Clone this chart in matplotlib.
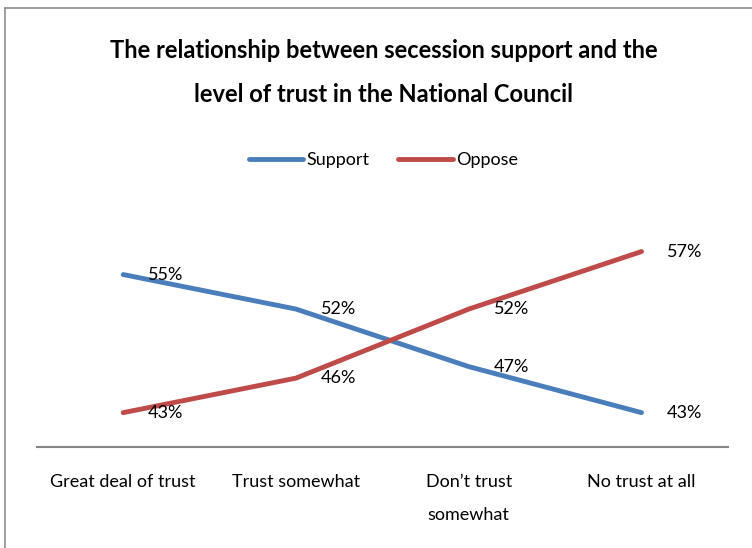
import matplotlib.pyplot as plt
from matplotlib.lines import Line2D

categories = ["Great deal of trust", "Trust somewhat", "Don\u2019t trust\nsomewhat", "No trust at all"]
support = [55, 52, 47, 43]
oppose = [43, 46, 52, 57]

blue = "#4A7EBB"
red = "#BE4B48"
plt.rcParams['font.family'] = ['Lato', 'DejaVu Sans']

fig = plt.figure(figsize=(7.52, 5.48), dpi=100)
ax = fig.add_axes([0.049, 0.184, 0.919, 0.42])

x = list(range(len(categories)))
ax.plot(x, support, color=blue, lw=3.5, solid_capstyle='round', label="Support")
ax.plot(x, oppose, color=red, lw=3.5, solid_capstyle='round', label="Oppose")

for xi, v in zip(x, support):
    ax.annotate(f"{v}%", (xi, v), xytext=(18, 0), textcoords='offset points',
                ha='left', va='center', fontsize=13, color='black')
for xi, v in zip(x, oppose):
    ax.annotate(f"{v}%", (xi, v), xytext=(18, 0), textcoords='offset points',
                ha='left', va='center', fontsize=13, color='black')

ax.set_xlim(-0.5, len(categories) - 0.5)
ax.set_ylim(40, 60)
ax.set_yticks([])
ax.set_xticks(x)
ax.set_xticklabels(categories, fontsize=13, va='top', linespacing=2.35)
ax.tick_params(axis='x', length=0, pad=19)
for side in ['left', 'right', 'top']:
    ax.spines[side].set_visible(False)
ax.spines['bottom'].set_color('#868686')
ax.spines['bottom'].set_linewidth(1.5)

fig.text(0.51, 1 - 50 / 548, "The relationship between secession support and the",
         ha='center', va='center', fontsize=17, fontweight='bold')
fig.text(0.51, 1 - 95 / 548, "level of trust in the National Council",
         ha='center', va='center', fontsize=17, fontweight='bold')

fig.legend(loc='center', bbox_to_anchor=(0.51, 1 - 160 / 548), ncol=2, frameon=False,
           fontsize=13, handlelength=3.0, handletextpad=0.2, columnspacing=1.6)

# outer chart border (left and top edges)
fig.add_artist(Line2D([5 / 752, 5 / 752], [0, 1 - 8 / 548], color='#8c8c8c', lw=1.2,
                      transform=fig.transFigure))
fig.add_artist(Line2D([5 / 752, 1], [1 - 8 / 548, 1 - 8 / 548], color='#8c8c8c', lw=1.2,
                      transform=fig.transFigure))

fig.savefig("out.png", dpi=100)
